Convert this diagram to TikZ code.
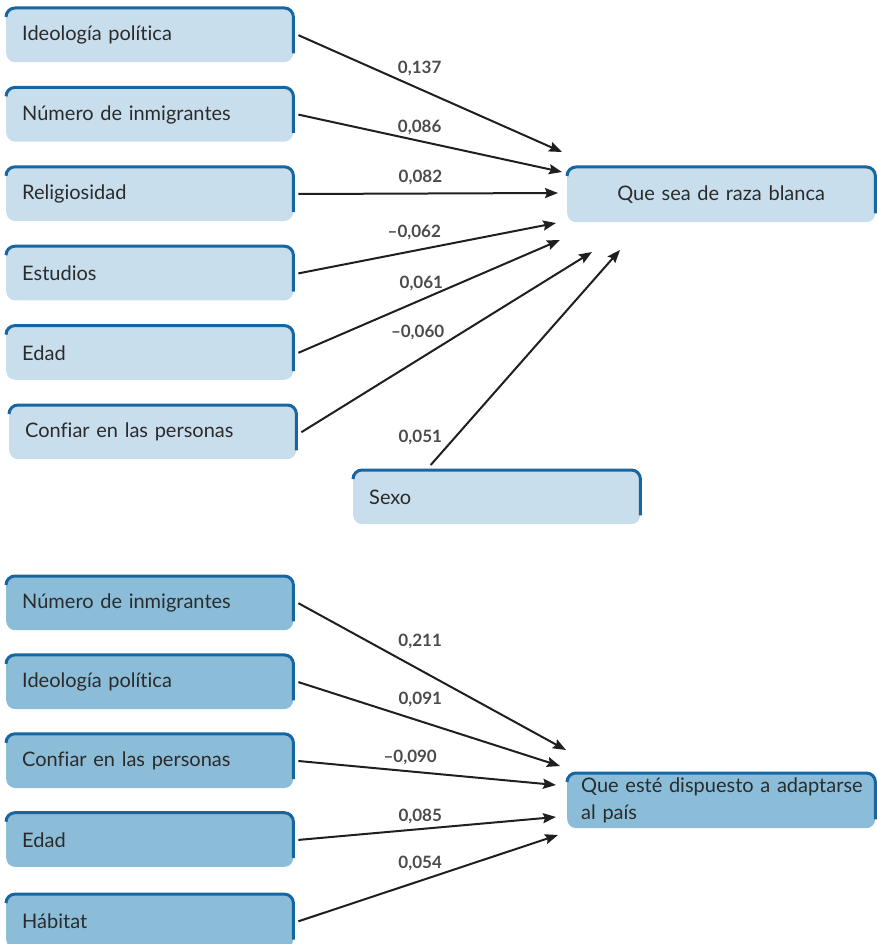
\documentclass[tikz,border=0pt]{standalone}
\usepackage{fontspec}
\setmainfont{Lato}[Ligatures={TeX,NoCommon}]
\usetikzlibrary{positioning,arrows.meta}
\definecolor{paleblue}{HTML}{C9DEED}
\definecolor{midblue}{HTML}{8BBDD9}
\definecolor{rimblue}{HTML}{1766A2}
\definecolor{inkgray}{HTML}{2B2B2B}
\tikzset{every node/.style={align=left}, >={Stealth[length=13pt,width=10pt,inset=2pt]}, font=\fontsize{20}{24}\selectfont}
\tikzset{
  var/.style={rounded corners=9pt, minimum width=287pt, minimum height=54pt, text width=255pt, inner xsep=16pt, inner ysep=0pt, text=inkgray},
  outcome/.style={var, anchor=north west, minimum width=308pt, minimum height=55pt, text width=276pt},
  rim/.style={draw=rimblue, line width=3pt, rounded corners=9pt},
  link/.style={->, line width=2pt, draw=black!88},
  coef/.style={font=\fontsize{17}{19}\selectfont\bfseries, text=inkgray!85, inner sep=0pt}
}

\begin{document}
\begin{tikzpicture}[x=1pt, y=-1pt, node distance=25pt]
\useasboundingbox (0,0) rectangle (876,944);
% Que sea de raza blanca
\node [var, fill=paleblue, anchor=north west] (ideo) at (6,8) {Ideología política};
\node [var, fill=paleblue, below=of ideo] (inmig) {Número de inmigrantes};
\node [var, fill=paleblue, below=of inmig] (relig) {Religiosidad};
\node [var, fill=paleblue, below=of relig] (estud) {Estudios};
\node [var, fill=paleblue, below=of estud] (edad) {Edad};
\node [var, fill=paleblue, below=of edad, xshift=3pt] (confia) {Confiar en las personas};
\node [var, fill=paleblue, anchor=north west, minimum width=286pt] (sexo) at (353,470) {Sexo};
\node [outcome, fill=paleblue, align=center] (raza) at (567,167) {Que sea de raza blanca};

% Que esté dispuesto a adaptarse al país
\node [var, fill=midblue, anchor=north west] (inmig2) at (6,576) {Número de inmigrantes};
\node [var, fill=midblue, below=24.5pt of inmig2] (ideo2) {Ideología política};
\node [var, fill=midblue, below=24.5pt of ideo2] (confia2) {Confiar en las personas};
\node [var, fill=midblue, below=24.5pt of confia2] (edad2) {Edad};
\node [var, fill=midblue, below=27pt of edad2] (habitat) {Hábitat};
\node [outcome, fill=midblue, text width=280pt, inner xsep=14pt, font=\fontsize{20}{27}\selectfont] (adapt) at (567,773) {\mbox{Que esté dispuesto a adaptarse}\\al país};

\foreach \n in {ideo,inmig,relig,estud,edad,confia,sexo,raza,inmig2,ideo2,confia2,edad2,habitat,adapt}
  \draw [rim] ([yshift=-9pt]\n.north west) -- (\n.north west) -- (\n.north east) -- ([yshift=9pt]\n.south east);

\coordinate (r1) at (562,152);
\coordinate (r2) at (562,172);
\coordinate (r3) at (558,193);
\coordinate (r4) at (556,223);
\coordinate (r5) at (560,240);
\coordinate (r6) at (592,252);
\coordinate (r7) at (620,250);
\draw [link] ([xshift=5pt]ideo.east) -- node [coef, pos=0.46, yshift=20pt] {0,137} (r1);
\draw [link] ([xshift=5pt]inmig.east) -- node [coef, pos=0.46, yshift=14pt] {0,086} (r2);
\draw [link] ([xshift=5pt]relig.east) -- node [coef, pos=0.47, yshift=16pt] {0,082} (r3);
\draw [link] ([xshift=5pt]estud.east) -- node [coef, pos=0.45, yshift=18pt] {–0,062} (r4);
\draw [link] ([xshift=5pt]edad.east) -- node [coef, pos=0.47, yshift=16pt] {0,061} (r5);
\draw [link] ([xshift=5pt]confia.east) -- node [coef, pos=0.40, yshift=28pt] {–0,060} (r6);
\draw [link] ([xshift=-66pt, yshift=5pt]sexo.north) -- node [coef, pos=0.13, xshift=-35pt] {0,051} (r7);

\coordinate (a1) at (566,750);
\coordinate (a2) at (560,766);
\coordinate (a3) at (556,785);
\coordinate (a4) at (556,817);
\coordinate (a5) at (558,835);
\draw [link] ([xshift=5pt]inmig2.east) -- node [coef, pos=0.455, yshift=29pt] {0,211} (a1);
\draw [link] ([xshift=5pt]ideo2.east) -- node [coef, pos=0.466, yshift=22pt] {0,091} (a2);
\draw [link] ([xshift=5pt]confia2.east) -- node [coef, pos=0.434, yshift=14pt] {–0,090} (a3);
\draw [link] ([xshift=5pt]edad2.east) -- node [coef, pos=0.473, yshift=13pt] {0,085} (a4);
\draw [link] ([xshift=5pt]habitat.east) -- node [coef, pos=0.469, yshift=17pt] {0,054} (a5);
\end{tikzpicture}
\end{document}
